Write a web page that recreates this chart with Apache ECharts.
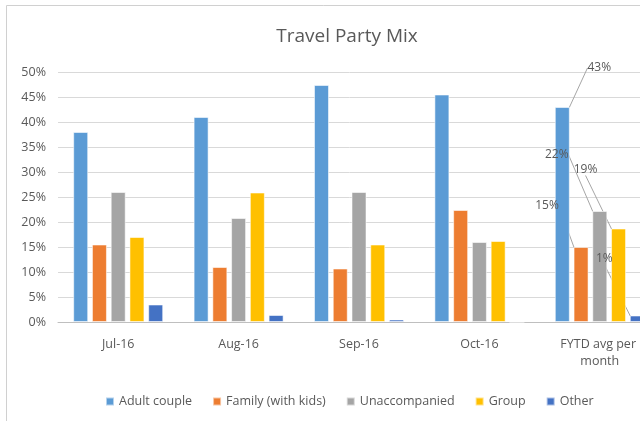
<!DOCTYPE html>
<html>
<head>
<meta charset="utf-8">
<script src="https://cdn.jsdelivr.net/npm/echarts@6/dist/echarts.min.js"></script>
<style>
  html, body { margin: 0; padding: 0; background: #fff; }
  #chart { width: 640px; height: 421px; }
</style>
</head>
<body>
<div id="chart"></div>
<script>
// values, in percent
var categories = ['Jul-16', 'Aug-16', 'Sep-16', 'Oct-16', 'FYTD avg per month'];
var adultCouple = [38, 41, 47.4, 45.5, 43];
var familyKids = [15.5, 11, 10.7, 22.4, 15];
var unaccompanied = [26, 20.8, 26, 16, 22.2];
var group = [17, 25.9, 15.5, 16.2, 18.7];
var other = [3.5, 1.4, 0.5, 0, 1.3];
var yTicks = [0, 5, 10, 15, 20, 25, 30, 35, 40, 45, 50];

var chartDom = document.getElementById('chart');
var myChart = echarts.init(chartDom, null, { renderer: 'canvas' });

var font = 'Open Sans, Noto Sans, sans-serif';
var grey = '#595959';
var lastIdx = categories.length - 1;

// label offsets for the FYTD column only (dx, dy)
var labelShift = {
    'Adult couple': [37, -28],
    'Family (with kids)': [-34, -30],
    'Unaccompanied': [-43, -45],
    'Group': [-33, -48],
    'Other': [-33, -46]
};

function makeSeries(name, values, color) {
    // only the FYTD column carries a data label
    var data = values.map(function (v, i) {
        if (i !== lastIdx) return v;
        return {
            value: v,
            label: { show: true },
            labelLine: { show: true }
        };
    });
    return {
        name: name,
        type: 'bar',
        data: data,
        barWidth: 15,
        barGap: '25%',
        itemStyle: {
            color: color,
            borderColor: 'rgba(255,255,255,0.55)',
            borderWidth: 1
        },
        label: {
            show: false,
            position: 'top',
            color: grey,
            fontFamily: font,
            fontSize: 12,
            formatter: function (p) {
                return Math.round(p.value) + '%';
            }
        },
        labelLine: {
            show: false,
            lineStyle: { color: '#a6a6a6', width: 1 }
        },
        labelLayout: function (p) {
            if (p.dataIndex !== lastIdx) return {};
            var s = labelShift[name];
            return { dx: s[0], dy: s[1] };
        }
    };
}

var option = {
    backgroundColor: '#fff',
    animation: false,
    title: {
        text: 'Travel Party Mix',
        left: 342,
        top: 22,
        textAlign: 'center',
        textStyle: {
            color: grey,
            fontFamily: font,
            fontSize: 19,
            fontWeight: 'normal'
        }
    },
    graphic: [{
        type: 'rect',
        shape: { x: 6.5, y: 5.5, width: 700, height: 430 },
        style: { fill: 'none', stroke: '#d0d0d0', lineWidth: 1 },
        silent: true
    }],
    legend: {
        left: 100,
        top: 390,
        itemWidth: 8,
        itemHeight: 8,
        itemGap: 20,
        icon: 'rect',
        textStyle: { color: grey, fontFamily: font, fontSize: 12.5 },
        data: ['Adult couple', 'Family (with kids)', 'Unaccompanied', 'Group', 'Other']
    },
    grid: {
        left: 58,
        top: 72,
        width: 602,
        height: 250,
        outerBoundsMode: 'none'
    },
    xAxis: {
        type: 'category',
        data: categories,
        axisLine: { lineStyle: { color: '#bfbfbf', width: 1 } },
        axisTick: { show: false },
        axisLabel: {
            color: grey,
            fontFamily: font,
            fontSize: 12.5,
            margin: 14,
            width: 90,
            overflow: 'break',
            lineHeight: 17,
            interval: 0
        }
    },
    yAxis: {
        type: 'value',
        min: yTicks[0],
        max: yTicks[yTicks.length - 1],
        interval: yTicks[1] - yTicks[0],
        axisLine: { show: false },
        axisTick: { show: false },
        splitLine: { lineStyle: { color: '#d9d9d9', width: 1 } },
        axisLabel: {
            color: grey,
            fontFamily: font,
            fontSize: 12.5,
            margin: 12,
            formatter: '{value}%'
        }
    },
    series: [
        makeSeries('Adult couple', adultCouple, '#5B9BD5'),
        makeSeries('Family (with kids)', familyKids, '#ED7D31'),
        makeSeries('Unaccompanied', unaccompanied, '#A5A5A5'),
        makeSeries('Group', group, '#FFC000'),
        makeSeries('Other', other, '#4472C4')
    ]
};

option && myChart.setOption(option);
</script>
</body>
</html>
